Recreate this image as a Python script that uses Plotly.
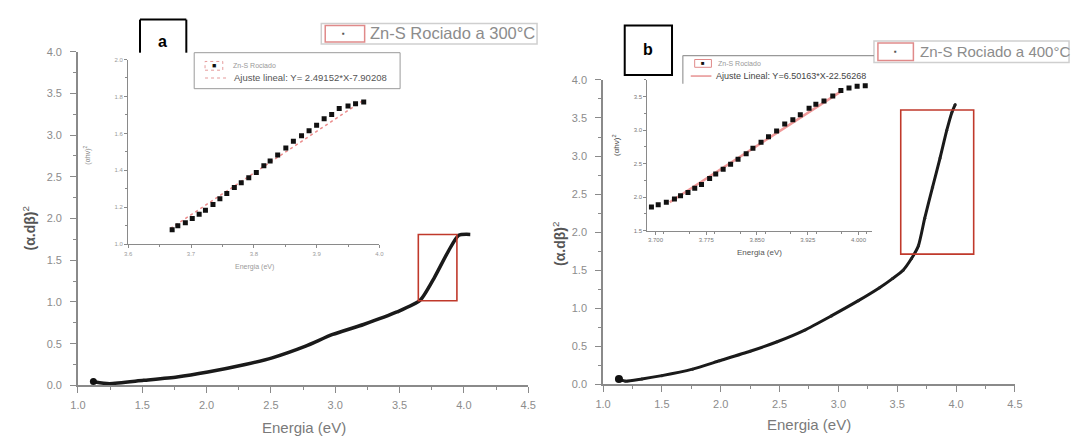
import plotly.graph_objects as go

W, H = 1080, 440

# ---------------- data ----------------
# panel a main curve
a_energy = [1.12, 1.135, 1.245, 1.51, 1.77, 2.01, 2.30, 2.51, 2.77, 2.98, 3.22, 3.48, 3.66, 3.77, 3.88, 3.96, 4.05]
a_signal = [0.045, 0.04, 0.02, 0.06, 0.10, 0.16, 0.25, 0.33, 0.47, 0.61, 0.73, 0.88, 1.02, 1.29, 1.61, 1.80, 1.81]
# panel a zoom box (x0, x1, y0, y1)
a_box = [3.646, 3.946, 1.015, 1.808]

# panel a inset
ai_energy = [3.670, 3.679, 3.691, 3.702, 3.713, 3.723, 3.735, 3.746, 3.757, 3.769, 3.780, 3.792, 3.804, 3.816,
             3.826, 3.838, 3.851, 3.863, 3.876, 3.888, 3.900, 3.912, 3.924, 3.936, 3.950, 3.962, 3.975]
ai_signal = [1.079, 1.100, 1.117, 1.140, 1.163, 1.184, 1.216, 1.246, 1.275, 1.307, 1.333, 1.360, 1.389, 1.425,
             1.451, 1.483, 1.521, 1.558, 1.588, 1.614, 1.644, 1.679, 1.702, 1.735, 1.749, 1.760, 1.770]
ai_fit_x = [3.667, 3.977]
ai_fit_y = [1.085, 1.785]

# panel b main curve
b_energy = [1.135, 1.187, 1.33, 1.50, 1.76, 1.99, 2.25, 2.48, 2.71, 2.94, 3.17, 3.35, 3.46, 3.55, 3.62, 3.68,
            3.734, 3.800, 3.864, 3.921, 3.964, 3.993]
b_signal = [0.072, 0.043, 0.072, 0.115, 0.20, 0.31, 0.435, 0.56, 0.71, 0.90, 1.10, 1.27, 1.39, 1.50, 1.65, 1.82,
            2.184, 2.589, 2.973, 3.336, 3.570, 3.676]
b_box = [3.53, 4.15, 1.712, 3.604]

# panel b inset
bi_energy = [3.694, 3.704, 3.716, 3.728, 3.737, 3.748, 3.758, 3.768, 3.780, 3.789, 3.800, 3.811, 3.822, 3.834,
             3.844, 3.856, 3.867, 3.879, 3.891, 3.903, 3.914, 3.927, 3.937, 3.949, 3.962, 3.974, 3.986, 3.998, 4.010]
bi_signal = [1.852, 1.887, 1.925, 1.973, 2.022, 2.070, 2.133, 2.191, 2.278, 2.345, 2.418, 2.490, 2.568, 2.649,
             2.732, 2.819, 2.901, 2.988, 3.094, 3.157, 3.229, 3.326, 3.388, 3.437, 3.510, 3.591, 3.630, 3.655, 3.664]
bi_fit_x = [3.721, 3.976]
bi_fit_y = [1.925, 3.591]

legend_a = "Zn-S Rociado a 300°C"
legend_b = "Zn-S Rociado a 400°C"
series_name = "Zn-S Rociado"
fit_a_label = "Ajuste lineal: Y= 2.49152*X-7.90208"
fit_b_label = "Ajuste Lineal: Y=6.50163*X-22.56268"
x_title = "Energia (eV)"
y_title = "<b>(α.dβ)</b><sup>2</sup>"
y_title_inset = "(αhν)<sup>2</sup>"

# ---------------- helpers ----------------
def xd(a, b):
    return [a / W, b / W]

def yd(top, bottom):
    return [1 - bottom / H, 1 - top / H]

def px(x):
    return x / W

def py(y):
    return 1 - y / H

FONT = "Liberation Sans, Arial, sans-serif"
AX = "#8a8a8a"

fig = go.Figure()

# main curves
fig.add_trace(go.Scatter(x=a_energy, y=a_signal, mode="lines",
                         line=dict(color="#1a1a1a", width=3.5, shape="spline", smoothing=0.6),
                         xaxis="x", yaxis="y", showlegend=False))
fig.add_trace(go.Scatter(x=b_energy, y=b_signal, mode="lines+markers",
                         line=dict(color="#1a1a1a", width=3, shape="spline", smoothing=0.6),
                         marker=dict(size=3, color="#222"), xaxis="x2", yaxis="y2", showlegend=False))
fig.add_trace(go.Scatter(x=a_energy[:1], y=a_signal[:1], mode="markers", marker=dict(size=7, color="#111"),
                         xaxis="x", yaxis="y", showlegend=False))
fig.add_trace(go.Scatter(x=b_energy[:1], y=b_signal[:1], mode="markers", marker=dict(size=8, color="#111"),
                         xaxis="x2", yaxis="y2", showlegend=False))

# insets
fig.add_trace(go.Scatter(x=ai_fit_x, y=ai_fit_y, mode="lines",
                         line=dict(color="rgba(230,110,110,0.8)", width=1.5, dash="dot"),
                         xaxis="x3", yaxis="y3", showlegend=False))
fig.add_trace(go.Scatter(x=ai_energy, y=ai_signal, mode="markers", marker=dict(symbol="square", size=5, color="#111"),
                         xaxis="x3", yaxis="y3", showlegend=False))
fig.add_trace(go.Scatter(x=bi_fit_x, y=bi_fit_y, mode="lines", line=dict(color="rgba(235,120,120,0.75)", width=2.5),
                         xaxis="x4", yaxis="y4", showlegend=False))
fig.add_trace(go.Scatter(x=bi_energy, y=bi_signal, mode="markers", marker=dict(symbol="square", size=5, color="#111"),
                         xaxis="x4", yaxis="y4", showlegend=False))

def main_axis(dom, rng, dtick, minor, anchor, standoff):
    return dict(domain=dom, range=rng, dtick=dtick, tick0=0, tickformat=".1f", ticks="outside", ticklen=6,
                tickwidth=1.2, tickcolor=AX, showline=True, linecolor=AX, linewidth=1.6, showgrid=False,
                zeroline=False, tickfont=dict(size=11, color="#8c8c8c", family=FONT), anchor=anchor,
                ticklabelstandoff=standoff,
                minor=dict(ticks="outside", ticklen=3, dtick=minor, tickcolor=AX, showgrid=False))

def inset_axis(dom, rng, tick0, dtick, minor, fmt, anchor, col="#9a9a9a"):
    return dict(domain=dom, range=rng, tick0=tick0, dtick=dtick, tickformat=fmt, ticks="outside", ticklen=3,
                tickwidth=1, tickcolor=AX, showline=True, linecolor=AX, linewidth=1.2, showgrid=False,
                zeroline=False, tickfont=dict(size=6, color=col, family=FONT), anchor=anchor,
                minor=dict(ticks="outside", ticklen=2, dtick=minor, tickcolor=AX, showgrid=False))

layout = dict(
    width=W, height=H, margin=dict(l=0, r=0, t=0, b=0), paper_bgcolor="white", plot_bgcolor="rgba(0,0,0,0)",
    xaxis=main_axis(xd(71, 528), [1.0, 4.5], 0.5, 0.25, "y", 3),
    yaxis=main_axis(yd(47, 390), [0, 4.0], 0.5, 0.25, "x", 6),
    xaxis2=main_axis(xd(604, 1022), [1.0, 4.5], 0.5, 0.25, "y2", 3),
    yaxis2=main_axis(yd(76, 389), [0, 4.0], 0.5, 0.25, "x2", 6),
    xaxis3=inset_axis(xd(122, 377), [3.6, 4.0], 3.6, 0.1, 0.05, ".1f", "y3"),
    yaxis3=inset_axis(yd(55, 245), [1.0, 2.0], 1.0, 0.2, 0.1, ".1f", "x3"),
    xaxis4=inset_axis(xd(649, 877), [3.688, 4.020], 3.7, 0.075, 0.0375, ".3f", "y4", "#777"),
    yaxis4=inset_axis(yd(76, 231), [1.5, 3.75], 1.5, 0.5, 0.25, ".1f", "x4", "#777"),
    font=dict(family=FONT),
)
fig.update_layout(**layout)

# zoom boxes
fig.add_shape(type="rect", xref="x", yref="y", x0=a_box[0], x1=a_box[1], y0=a_box[2], y1=a_box[3],
              line=dict(color="#c0392b", width=1.6))
fig.add_shape(type="rect", xref="x2", yref="y2", x0=b_box[0], x1=b_box[1], y0=b_box[2], y1=b_box[3],
              line=dict(color="#c0392b", width=1.6))

def prect(x0, y0, x1, y1, color, width=1, dash=None, fill=None):
    fig.add_shape(type="rect", xref="paper", yref="paper", x0=px(x0), x1=px(x1), y0=py(y1), y1=py(y0),
                  line=dict(color=color, width=width, dash=dash), fillcolor=fill, layer="above")

def pline(x0, y0, x1, y1, color, width=1, dash=None):
    fig.add_shape(type="line", xref="paper", yref="paper", x0=px(x0), x1=px(x1), y0=py(y0), y1=py(y1),
                  line=dict(color=color, width=width, dash=dash))

def ann(x, y, text, size, color, anchor="center", angle=0):
    fig.add_annotation(x=px(x), y=py(y), xref="paper", yref="paper", text=text, showarrow=False,
                       font=dict(size=size, color=color, family=FONT), xanchor=anchor, yanchor="middle",
                       textangle=angle)

# axis titles
ann(300, 433, x_title, 15, "#7a7a7a")
ann(813, 430, x_title, 15, "#7a7a7a")
ann(21, 229, y_title, 14, "#555", angle=-90)
ann(560, 245, y_title, 14, "#555", angle=-90)
ann(250, 268, x_title, 7, "#9a9a9a")
ann(763, 253, x_title, 8, "#555")
ann(81, 153, y_title_inset, 7, "#888", angle=-90)
ann(617, 143, y_title_inset, 8, "#444", angle=-90)

# main legends
prect(318, 18, 537, 39, "#cfcfcf", 1.5)
prect(322, 20, 362, 37, "#e08a8a", 1.5)
ann(341, 28, "▪", 8, "#555")
ann(365, 28, legend_a, 16.5, "#8c8c8c", anchor="left")

prect(879, 36, 1077, 58, "#cfcfcf", 1.5)
prect(883, 38, 919, 56, "#e08a8a", 1.5)
ann(901, 47, "▪", 8, "#555")
ann(924, 47, legend_b, 15, "#8c8c8c", anchor="left")

# panel labels
pline(134, 48, 134, 14, "black", 2)
pline(134, 14, 181, 14, "black", 2)
pline(181, 14, 181, 48, "black", 2)
ann(157, 37, "<b>a</b>", 16, "black")
prect(626, 20, 674, 71, "black", 2, fill="white")
ann(650, 45, "<b>b</b>", 16, "black")

# inset a legend
prect(189, 48, 398, 85, "#9a9a9a", 1)
prect(200, 57, 218, 66, "#e59a9a", 1, dash="dot")
ann(209, 61, "■", 7, "#111")
ann(226, 61, series_name, 7, "#999", anchor="left")
pline(200, 74, 224, 74, "#e59a9a", 1.2, dash="dot")
ann(227, 74, fit_a_label, 9.5, "#555", anchor="left")

# inset b legend
pline(685, 80, 685, 51, "#999", 1.2)
pline(685, 51, 879, 51, "#999", 1.2)
prect(697, 55, 714, 63, "#e08a8a", 1)
ann(705, 59, "■", 6, "#111")
ann(719, 59, series_name, 7, "#999", anchor="left")
pline(693, 72, 714, 72, "#e07777", 1.2)
ann(717, 72, fit_b_label, 9, "#444", anchor="left")

fig.write_html("out.html")
